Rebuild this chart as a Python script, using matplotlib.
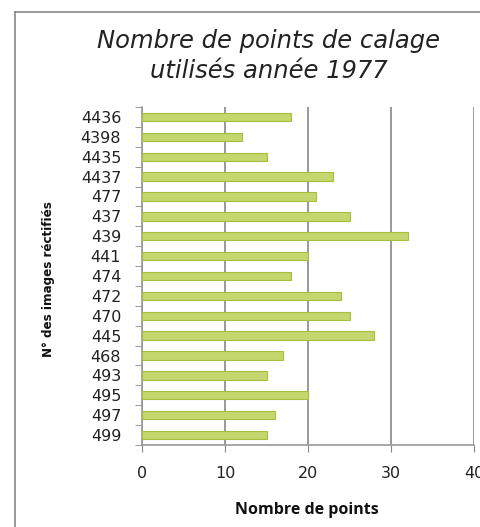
import matplotlib
matplotlib.use("Agg")
import matplotlib.pyplot as plt
from matplotlib.lines import Line2D
from matplotlib import font_manager
import numpy as np

categories = ["4436", "4398", "4435", "4437", "477", "437", "439", "441", "474",
              "472", "470", "445", "468", "493", "495", "497", "499"]
values = [18, 12, 15, 23, 21, 25, 32, 20, 18, 24, 25, 28, 17, 15, 20, 16, 15]
xticks = [0, 10, 20, 30, 40]

W, H = 481, 527
fig = plt.figure(figsize=(W / 100, H / 100), dpi=100)
ax = fig.add_axes([142 / W, 1 - 445 / H, (474 - 142) / W, (445 - 107) / H])

n = len(categories)
y = np.arange(n)
ax.barh(y, values, height=0.42, color="#c4d66e", edgecolor="#a3c03c", linewidth=0.8, zorder=3)
ax.set_ylim(n - 0.5, -0.5)
ax.set_xlim(0, 40)

ax.set_yticks(y)
ax.set_yticklabels(categories, fontsize=11.5, family="DejaVu Sans", color="#222222")
ax.set_yticks(np.arange(-0.5, n, 1), minor=True)
ax.tick_params(axis="y", which="major", length=0, pad=15)
ax.tick_params(axis="y", which="minor", length=5, color="#888888", direction="out")

ax.set_xticks(xticks)
ax.set_xticklabels([str(t) for t in xticks], fontsize=11.5, family="DejaVu Sans", color="#222222")
ax.tick_params(axis="x", which="major", length=5, color="#888888", direction="out", pad=10)

ax.grid(axis="x", color="#999999", linewidth=1.4, zorder=0)
for s in ["top", "right"]:
    ax.spines[s].set_visible(False)
for s in ["left", "bottom"]:
    ax.spines[s].set_color("#999999")
    ax.spines[s].set_linewidth(1.2)

ax.set_xlabel("Nombre de points", fontsize=11.5, fontweight="bold", family="Open Sans", color="#111111")
ax.xaxis.set_label_coords((307 - 142) / 332, -(502 - 445) / 338)

# Condensed bold face for the y label if available
cond = None
for f in font_manager.fontManager.ttflist:
    if ("Condensed" in f.fname or "Narrow" in f.fname) and f.weight in ("bold", 700) and "Oblique" not in f.fname and "Italic" not in f.fname:
        cond = f.fname
        break
if cond:
    yl_props = dict(fontproperties=font_manager.FontProperties(fname=cond, size=9.5))
else:
    yl_props = dict(fontsize=9.5, fontweight="bold", family="Roboto")
ax.set_ylabel("N° des images réctifiés", color="#111111", **yl_props)
ax.yaxis.set_label_coords(-(142 - 55) / 332, 0.49)

fig.text(269 / W, 1 - 56 / H, "Nombre de points de calage\nutilisés année 1977", ha="center", va="center",
         fontsize=17.5, style="italic", family="DejaVu Sans", linespacing=1.35, color="#222222")

fig.add_artist(Line2D([15 / W, 15 / W], [0, 1 - 12 / H], transform=fig.transFigure, color="#888888", linewidth=1.2))
fig.add_artist(Line2D([15 / W, 1], [1 - 12 / H, 1 - 12 / H], transform=fig.transFigure, color="#888888", linewidth=1.2))

fig.savefig("out.png", dpi=100)
